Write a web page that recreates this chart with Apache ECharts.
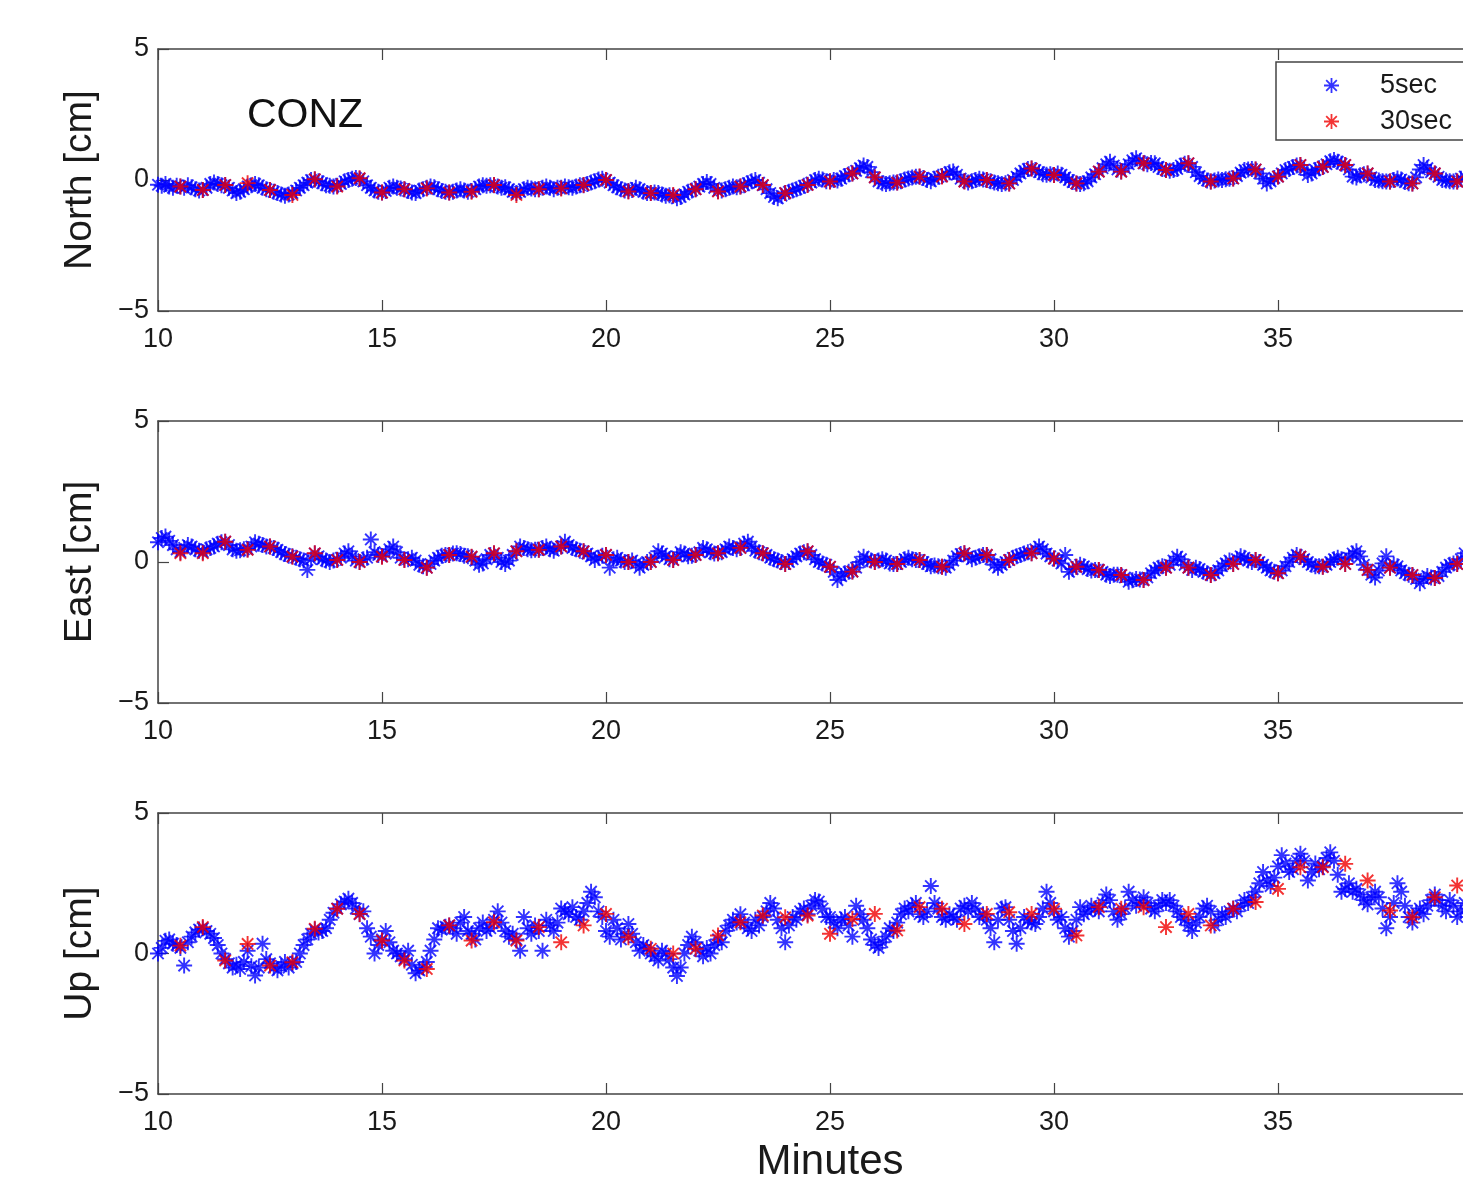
<!DOCTYPE html>
<html>
<head>
<meta charset="utf-8">
<script src="https://cdn.jsdelivr.net/npm/echarts@6/dist/echarts.min.js"></script>
<style>
  html, body { margin: 0; padding: 0; background: #fff; overflow: hidden; width: 1463px; height: 1178px; }
  #chart { width: 1520px; height: 1178px; }
</style>
</head>
<body>
<div id="chart"></div>
<script>
// 5 s samples start at 10.0 min, 30 s samples start at 10.5 min
const fastStart = 10, fastStep = 1 / 12;
const slowStart = 10.5, slowStep = 0.5;

const northFast = [
  -0.18,-0.22,-0.15,-0.25,-0.3,-0.22, -0.25,-0.3,-0.2,-0.28,-0.35,-0.4,
  -0.38,-0.3,-0.15,-0.1,-0.15,-0.2, -0.19,-0.3,-0.4,-0.5,-0.45,-0.35,
  -0.25,-0.2,-0.15,-0.2,-0.3,-0.35, -0.38,-0.45,-0.5,-0.55,-0.6,-0.55,
  -0.5,-0.4,-0.3,-0.2,-0.1,0.0, 0.02,-0.05,-0.12,-0.2,-0.22,-0.25,
  -0.22,-0.15,-0.05,0.0,0.05,0.08, 0.05,-0.05,-0.2,-0.3,-0.4,-0.45,
  -0.48,-0.42,-0.3,-0.25,-0.3,-0.32, -0.35,-0.42,-0.48,-0.5,-0.4,-0.35,
  -0.3,-0.25,-0.28,-0.35,-0.42,-0.45, -0.48,-0.45,-0.4,-0.35,-0.4,-0.45,
  -0.42,-0.35,-0.25,-0.2,-0.22,-0.2, -0.2,-0.25,-0.3,-0.28,-0.35,-0.45,
  -0.5,-0.45,-0.35,-0.3,-0.32,-0.35, -0.35,-0.3,-0.25,-0.3,-0.35,-0.3,
  -0.3,-0.25,-0.28,-0.3,-0.25,-0.2, -0.2,-0.15,-0.1,-0.05,0.02,0.05,
  0.0,-0.1,-0.2,-0.28,-0.35,-0.4, -0.42,-0.38,-0.3,-0.35,-0.45,-0.5,
  -0.5,-0.48,-0.5,-0.55,-0.6,-0.58, -0.6,-0.7,-0.65,-0.55,-0.45,-0.4,
  -0.35,-0.25,-0.15,-0.08,-0.15,-0.3, -0.42,-0.4,-0.35,-0.3,-0.25,-0.28,
  -0.25,-0.2,-0.12,-0.05,0.0,-0.1, -0.2,-0.35,-0.5,-0.65,-0.7,-0.6,
  -0.5,-0.45,-0.4,-0.35,-0.3,-0.22, -0.18,-0.1,0.0,0.05,0.02,-0.05,
  -0.05,0.0,-0.02,0.05,0.15,0.22, 0.25,0.35,0.45,0.55,0.5,0.3,
  0.1,-0.05,-0.12,-0.15,-0.12,-0.1, -0.1,-0.05,0.02,0.06,0.1,0.12,
  0.12,0.08,0.0,-0.05,0.05,0.12, 0.15,0.22,0.3,0.32,0.2,0.05,
  -0.05,-0.1,-0.05,0.0,0.05,0.02, 0.0,-0.05,-0.1,-0.12,-0.15,-0.12,
  -0.13,0.0,0.12,0.25,0.35,0.42, 0.44,0.38,0.3,0.22,0.2,0.22,
  0.19,0.25,0.2,0.1,0.0,-0.08, -0.13,-0.15,-0.12,-0.05,0.1,0.22,
  0.32,0.45,0.6,0.7,0.55,0.4, 0.32,0.45,0.6,0.75,0.83,0.72,
  0.64,0.6,0.65,0.64,0.5,0.42, 0.38,0.35,0.38,0.42,0.55,0.62,
  0.64,0.5,0.3,0.15,0.05,-0.02, -0.06,-0.02,0.02,0.0,0.03,0.05,
  0.06,0.15,0.28,0.38,0.4,0.42, 0.4,0.25,0.05,-0.13,-0.05,0.08,
  0.13,0.25,0.38,0.42,0.5,0.55, 0.57,0.4,0.19,0.25,0.38,0.45,
  0.5,0.6,0.72,0.76,0.7,0.62, 0.57,0.4,0.13,0.1,0.18,0.22,
  0.25,0.1,0.0,-0.02,-0.05,-0.06, -0.06,0.0,0.06,0.02,-0.08,-0.12,
  -0.13,0.1,0.4,0.57,0.45,0.3, 0.25,0.12,0.0,-0.02,-0.05,-0.06,
  -0.06,0.05,0.13,0.0,-0.2,-0.38, -0.35,-0.3,-0.25,-0.3,-0.28,-0.25
];
const northSlow = [
  -0.25,-0.38,-0.19,-0.12,-0.38,-0.57,0.03,-0.25,0.07,-0.48,
  -0.35,-0.32,-0.48,-0.45,-0.19,-0.57,-0.35,-0.32,-0.19,0.0,
  -0.44,-0.5,-0.57,-0.35,-0.44,-0.25,-0.19,-0.5,-0.19,-0.06,
  0.25,0.1,-0.1,0.13,0.13,-0.06,0.0,-0.13,0.44,0.19,
  -0.13,0.32,0.32,0.64,0.38,0.64,-0.06,0.06,0.4,0.13,
  0.57,0.5,0.57,0.25,-0.06,-0.13,0.25,-0.06,-0.15,-0.25
];

const eastFast = [
  0.7,0.85,0.9,0.75,0.6,0.45, 0.35,0.5,0.6,0.55,0.45,0.4,
  0.35,0.45,0.5,0.55,0.65,0.7, 0.72,0.6,0.45,0.4,0.42,0.45,
  0.45,0.55,0.7,0.65,0.6,0.55, 0.55,0.5,0.43,0.35,0.28,0.22,
  0.2,0.15,0.1,0.05,-0.28,0.1, 0.3,0.2,0.1,0.05,0.0,0.05,
  0.08,0.15,0.3,0.38,0.2,0.05, 0.0,0.1,0.15,0.8,0.35,0.25,
  0.2,0.3,0.45,0.55,0.35,0.15, 0.08,0.1,0.15,0.05,-0.1,-0.15,
  -0.2,-0.07,0.05,0.15,0.22,0.25, 0.25,0.3,0.31,0.28,0.22,0.2,
  0.18,0.05,-0.1,-0.05,0.1,0.25, 0.3,0.15,0.0,-0.07,0.05,0.25,
  0.38,0.55,0.5,0.45,0.42,0.43, 0.43,0.5,0.55,0.45,0.4,0.5,
  0.55,0.72,0.6,0.5,0.45,0.4, 0.38,0.3,0.2,0.07,0.15,0.22,
  0.25,-0.2,0.1,0.15,0.05,0.0, 0.0,0.05,-0.05,-0.2,-0.1,0.0,
  0.0,0.15,0.38,0.3,0.2,0.1, 0.07,0.2,0.35,0.3,0.2,0.22,
  0.25,0.35,0.5,0.45,0.35,0.3, 0.31,0.35,0.45,0.55,0.5,0.45,
  0.5,0.65,0.72,0.55,0.4,0.35, 0.31,0.25,0.15,0.1,0.05,0.0,
  -0.07,0.0,0.1,0.2,0.3,0.35, 0.38,0.25,0.1,0.0,-0.05,-0.1,
  -0.17,-0.35,-0.64,-0.5,-0.4,-0.35, -0.34,-0.2,0.0,0.19,0.1,0.05,
  0.0,0.05,0.1,0.05,-0.05,-0.07, -0.07,0.0,0.1,0.15,0.1,0.07,
  0.07,0.0,-0.07,-0.15,-0.12,-0.15, -0.17,-0.2,-0.1,0.05,0.2,0.28,
  0.31,0.2,0.1,0.15,0.2,0.25, 0.25,0.1,-0.1,-0.2,-0.1,0.0,
  0.07,0.15,0.2,0.25,0.3,0.35, 0.31,0.45,0.55,0.45,0.3,0.2,
  0.12,0.05,-0.05,0.25,-0.35,-0.25, -0.17,-0.1,-0.15,-0.25,-0.3,-0.28,
  -0.28,-0.35,-0.45,-0.5,-0.45,-0.45, -0.46,-0.55,-0.7,-0.65,-0.6,-0.62,
  -0.64,-0.55,-0.4,-0.3,-0.2,-0.15, -0.2,-0.1,0.05,0.19,0.1,-0.1,
  -0.2,-0.28,-0.2,-0.25,-0.35,-0.4, -0.46,-0.4,-0.3,-0.15,-0.05,0.05,
  -0.07,0.1,0.2,0.15,0.05,0.0, 0.07,0.0,-0.1,-0.2,-0.3,-0.35,
  -0.4,-0.3,-0.15,0.0,0.15,0.25, 0.19,0.1,0.0,-0.1,-0.15,-0.15,
  -0.17,-0.1,0.0,0.1,0.15,0.1, -0.07,0.15,0.3,0.38,0.2,-0.1,
  -0.28,-0.45,-0.55,-0.3,-0.05,0.2, -0.2,-0.1,-0.15,-0.3,-0.4,-0.45,
  -0.46,-0.6,-0.75,-0.6,-0.5,-0.55, -0.57,-0.5,-0.35,-0.2,-0.1,-0.05,
  -0.07,0.1,0.31,0.2,0.05,-0.05, -0.07,-0.1,-0.05,-0.1,-0.15,-0.1
];
const eastSlow = [
  0.31,0.31,0.72,0.43,0.55,0.19,0.31,0.07,0.0,0.19,
  0.07,-0.2,0.25,0.19,0.31,0.38,0.43,0.55,0.38,0.25,
  0.0,0.0,0.07,0.25,0.31,0.5,0.31,-0.07,0.38,-0.17,
  -0.34,0.0,-0.07,0.07,-0.17,0.31,0.25,0.07,0.31,0.12,
  -0.17,-0.28,-0.46,-0.64,-0.2,-0.2,-0.46,-0.07,0.07,-0.4,
  0.19,-0.17,-0.07,-0.28,-0.2,-0.46,-0.57,-0.07,-0.07,-0.1
];

const upFast = [
  0.0,0.2,0.45,0.5,0.35,0.3, 0.2,-0.43,0.4,0.6,0.75,0.85,
  0.9,0.8,0.7,0.55,0.3,0.0, -0.2,-0.35,-0.5,-0.4,-0.55,-0.3,
  0.1,-0.45,-0.78,-0.5,0.35,-0.2, -0.35,-0.5,-0.6,-0.45,-0.3,-0.5,
  -0.35,-0.3,0.0,0.3,0.5,0.7, 0.85,0.75,0.8,0.9,1.2,1.45,
  1.6,1.75,1.85,1.95,1.8,1.6, 1.4,1.5,0.9,0.6,0.0,0.3,
  0.5,0.8,0.4,0.1,0.0,-0.1, -0.2,0.1,-0.4,-0.7,-0.6,-0.5,
  -0.3,0.1,0.5,0.9,0.85,0.95, 1.0,0.9,0.7,1.1,1.3,0.8,
  0.7,0.5,0.9,1.1,0.8,0.9, 1.2,1.5,1.1,0.8,0.6,0.7,
  0.5,0.1,1.3,0.9,0.7,1.0, 0.8,0.1,1.2,1.0,0.8,1.1,
  1.6,1.5,1.4,1.65,1.3,1.2, 1.5,1.8,2.2,2.0,1.5,1.3,
  0.8,0.6,1.2,0.9,0.5,0.7, 1.05,0.7,0.4,0.1,0.3,0.2,
  0.0,-0.1,-0.25,0.1,0.0,-0.2, -0.5,-0.8,-0.5,0.0,0.3,0.6,
  0.4,0.1,-0.1,0.2,0.0,0.3, 0.5,0.4,0.8,1.0,1.2,1.1,
  1.4,1.1,0.9,0.8,1.2,1.0, 1.3,1.5,1.8,1.6,1.2,0.9,
  0.4,1.0,1.3,1.2,1.5,1.6, 1.4,1.7,1.9,1.85,1.6,1.3,
  1.3,1.1,0.9,1.2,1.3,1.0, 0.6,1.7,1.4,1.2,0.9,0.5,
  0.3,0.2,0.4,0.6,0.9,0.8, 1.1,1.4,1.6,1.5,1.7,1.8,
  1.4,1.3,1.5,2.4,1.8,1.6, 1.3,1.2,1.4,1.3,1.2,1.6,
  1.7,1.5,1.8,1.6,1.3,1.4, 1.2,0.9,0.4,1.2,1.6,1.65,
  1.2,0.8,0.35,0.9,1.3,1.2, 1.1,1.05,1.3,1.6,2.2,1.8,
  1.5,1.2,1.3,0.9,0.6,0.8, 1.2,1.65,1.4,1.5,1.7,1.6,
  1.5,1.8,2.1,1.9,1.5,1.2, 1.4,1.6,2.2,1.9,1.7,1.8,
  2.0,1.8,1.6,1.5,1.7,1.9, 1.8,1.9,1.7,1.5,1.3,1.2,
  1.0,0.8,1.1,1.3,1.6,1.7, 1.5,1.0,1.2,1.4,1.3,1.5,
  1.6,1.5,1.7,1.9,1.8,2.0, 2.2,2.5,2.9,2.6,2.4,2.7,
  3.1,3.5,3.2,2.9,3.0,3.3, 3.55,3.3,2.6,2.9,3.2,3.0,
  3.1,3.4,3.6,3.3,2.8,2.2, 2.3,2.5,2.2,2.3,2.1,1.9,
  1.75,2.0,2.2,2.0,1.6,0.9, 1.3,1.8,2.5,2.2,1.7,1.3,
  1.1,1.45,1.6,1.4,1.7,1.9, 2.1,1.9,1.7,1.5,1.9,1.7,
  1.3,1.5,1.8,1.6,1.2,1.4, 1.2,1.5,1.7,1.4,1.3,1.5
];
const upSlow = [
  0.28,0.94,-0.25,0.34,-0.43,-0.31,0.88,1.59,1.41,0.46,
  -0.25,-0.55,1.0,0.46,1.11,0.46,0.94,0.4,1.0,1.41,
  0.58,0.17,0.0,0.17,0.64,1.11,1.35,1.29,1.35,0.7,
  1.23,1.41,0.82,1.65,1.59,1.05,1.41,1.47,1.41,1.59,
  0.64,1.65,1.59,1.65,0.94,1.41,1.0,1.59,1.83,2.3,
  3.07,3.07,3.19,2.6,1.53,1.29,2.0,2.42,1.06,1.4
];

const panelNames = ['North [cm]', 'East [cm]', 'Up [cm]'];
const seriesNames = ['5sec', '30sec'];
const fastSets = [northFast, eastFast, upFast];
const slowSets = [northSlow, eastSlow, upSlow];

(function () {
  const chart = echarts.init(document.getElementById('chart'));
  const FONT = '"Liberation Sans", Arial, Helvetica, sans-serif';
  const AXIS = '#444';
  // matlab style '*' marker
  const STAR = 'path://M0,44L100,44L100,56L0,56Z M44,0L56,0L56,100L44,100Z ' +
    'M10.4,18.8L18.8,10.4L89.6,81.2L81.2,89.6Z M81.2,10.4L89.6,18.8L18.8,89.6L10.4,81.2Z';

  const gridBoxes = [
    { top: 49, height: 262 },
    { top: 421, height: 282 },
    { top: 813, height: 281 }
  ];

  const minus = v => (v < 0 ? '\u2212' + Math.abs(v) : String(v));

  const grid = [], xAxis = [], yAxis = [], series = [];
  gridBoxes.forEach((g, i) => {
    grid.push({ left: 158, right: 18, top: g.top, height: g.height, containLabel: false, outerBoundsMode: 'none' });
    const base = {
      type: 'value', gridIndex: i, min: 10, max: 40, interval: 5,
      axisLine: { show: true, onZero: false, lineStyle: { color: AXIS, width: 1.5 } },
      axisTick: { show: true, inside: true, length: 11, lineStyle: { color: AXIS, width: 1.2 } },
      splitLine: { show: false }
    };
    xAxis.push(Object.assign({}, base, {
      position: 'bottom',
      axisLabel: { fontSize: 27, color: '#1a1a1a', fontFamily: FONT, margin: 15 },
      name: i === 2 ? 'Minutes' : '',
      nameLocation: 'middle',
      nameGap: 47,
      nameTextStyle: { fontSize: 42, color: '#1a1a1a', fontFamily: FONT }
    }));
    xAxis.push(Object.assign({}, base, { position: 'top', axisLabel: { show: false } }));
    yAxis.push({
      type: 'value', gridIndex: i, min: -5, max: 5, interval: 5,
      axisLine: { show: true, onZero: false, lineStyle: { color: AXIS, width: 1.5 } },
      axisTick: { show: true, inside: true, length: 11, lineStyle: { color: AXIS, width: 1.2 } },
      splitLine: { show: false },
      axisLabel: { fontSize: 27, color: '#1a1a1a', fontFamily: FONT, margin: 9, formatter: minus },
      name: panelNames[i],
      nameLocation: 'middle',
      nameGap: 58,
      nameTextStyle: { fontSize: 39, color: '#1a1a1a', fontFamily: FONT }
    });

    series.push({
      name: seriesNames[0], type: 'scatter', xAxisIndex: 2 * i, yAxisIndex: i,
      symbol: STAR, symbolSize: 16,
      itemStyle: { color: '#0000ff' },
      data: fastSets[i].map((v, k) => [fastStart + k * fastStep, v])
    });
    series.push({
      name: seriesNames[1], type: 'scatter', xAxisIndex: 2 * i, yAxisIndex: i,
      symbol: STAR, symbolSize: 16,
      itemStyle: { color: '#f00000' },
      data: slowSets[i].map((v, k) => [slowStart + k * slowStep, v])
    });
  });

  const option = {
    animation: false,
    backgroundColor: '#fff',
    title: {
      text: 'CONZ', left: 247, top: 95, padding: 0,
      textStyle: { fontSize: 41, fontWeight: 'normal', color: '#111', fontFamily: FONT }
    },
    legend: {
      data: seriesNames,
      orient: 'vertical',
      left: 1276, top: 62,
      padding: [10, 40, 5, 48],
      itemWidth: 15, itemHeight: 15, itemGap: 9,
      icon: STAR,
      selectedMode: false,
      backgroundColor: '#fff',
      borderColor: AXIS, borderWidth: 1.5, borderRadius: 0,
      textStyle: { fontSize: 27, lineHeight: 27, color: '#1a1a1a', fontFamily: FONT, padding: [0, 0, 0, 36] }
    },
    grid: grid,
    xAxis: xAxis,
    yAxis: yAxis,
    series: series
  };

  chart.setOption(option);
  window.addEventListener('resize', () => chart.resize());
})();
</script>
</body>
</html>
